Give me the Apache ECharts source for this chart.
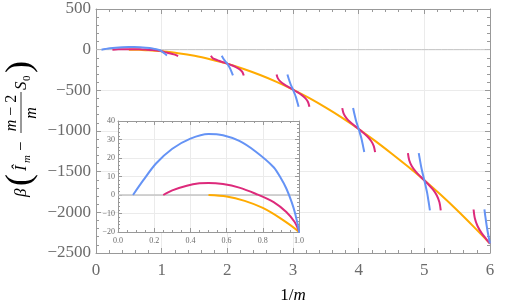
<!DOCTYPE html>
<html><head><meta charset="utf-8">
<script src="https://cdn.jsdelivr.net/npm/echarts@6.0.0/dist/echarts.min.js"></script>
<style>html,body{margin:0;padding:0;background:#fff}#c{width:508px;height:305px}</style>
</head><body><div id="c"></div>
<script>
// ---------------- data ----------------
const mainXRange = [0, 6], mainXStep = 1;
const mainYRange = [-2500, 500], mainYStep = 500;
const insetXRange = [0, 1], insetXStep = 0.2;
const insetYRange = [-20, 40], insetYStep = 10;

const orange = [[0.5,0],[0.6,-0.8],[0.7,-3.2],[0.8,-7],[0.9,-12.8],[1.0,-20],[1.25,-44],[1.5,-76],[1.75,-120],[2,-172],[2.25,-237],[2.5,-311],[2.75,-395],[3,-491],[3.25,-597],[3.5,-713],[3.75,-838],[4,-975],[4.25,-1121],[4.5,-1276],[4.75,-1437],[5,-1606],[5.25,-1785],[5.5,-1975],[5.75,-2176],[6,-2384]];

const mag1 = [[0.25,0],[0.3,2.5],[0.38,5],[0.45,6.3],[0.5,6.5],[0.58,5.9],[0.67,4],[0.76,0.7],[0.86,-3.8],[0.93,-9.2],[0.976,-14.6],[1.0,-19.5],[1.05,-30],[1.1,-40],[1.15,-50],[1.2,-61],[1.25,-80]];
const mag2 = [[1.75,-76],[1.77,-98],[1.81,-118],[1.87,-137],[1.94,-156],[2,-172],[2.06,-190],[2.13,-214],[2.19,-242],[2.23,-276],[2.25,-317]];
const mag3 = [[2.75,-305],[2.77,-353],[2.81,-393],[2.87,-430],[2.94,-464],[3,-491],[3.06,-519],[3.13,-556],[3.19,-599],[3.23,-646],[3.25,-702]];
const mag4 = [[3.75,-718],[3.77,-783],[3.81,-838],[3.87,-890],[3.94,-937],[4,-975],[4.06,-1014],[4.13,-1065],[4.19,-1123],[4.23,-1185],[4.25,-1259]];
const mag5 = [[4.75,-1271],[4.77,-1359],[4.81,-1432],[4.87,-1499],[4.94,-1559],[5,-1606],[5.06,-1655],[5.13,-1719],[5.19,-1792],[5.23,-1875],[5.25,-1975]];
const mag6 = [[5.75,-1965],[5.77,-2077],[5.81,-2168],[5.87,-2252],[5.94,-2326],[6,-2384]];

const blue1 = [[0.083,0],[0.14,8],[0.21,17],[0.3,25],[0.4,30.5],[0.5,33],[0.58,32.3],[0.67,29.2],[0.76,23.5],[0.86,15],[0.9,9],[0.93,3.5],[0.96,-4],[0.98,-10.5],[1.0,-19.5],[1.04,-45],[1.08,-72]];
const blue2 = [[1.915,-76],[1.936,-105],[1.958,-132],[1.979,-153],[2,-172],[2.021,-201],[2.043,-233],[2.064,-274],[2.085,-317]];
const blue3 = [[2.915,-305],[2.936,-361],[2.958,-413],[2.979,-454],[3,-491],[3.021,-533],[3.043,-580],[3.064,-639],[3.085,-702]];
const blue4 = [[3.915,-718],[3.936,-795],[3.958,-867],[3.979,-924],[4,-975],[4.021,-1032],[4.043,-1094],[4.064,-1174],[4.085,-1259]];
const blue5 = [[4.915,-1271],[4.936,-1371],[4.958,-1465],[4.979,-1539],[5,-1606],[5.021,-1680],[5.043,-1761],[5.064,-1864],[5.085,-1975]];
const blue6 = [[5.915,-1965],[5.936,-2091],[5.958,-2208],[5.979,-2300],[6,-2384]];

const mainZero = [[0,0],[6,0]];
const insetZero = [[0,0],[1,0]];

// ---------------- styling ----------------
const FONT = "'Liberation Serif', 'DejaVu Serif', serif";
const FRAME = '#999999', GRIDC = '#ebebeb', LABELC = '#6b6b6b';
const BLUE = '#6593f5', MAG = '#dd2a7b', ORANGE = '#ffab00';
const minusFmt = v => (v < 0 ? '\u2212' : '') + Math.abs(v);

function axis(o) {
  return {
    type: 'value', min: o.range[0], max: o.range[1], interval: o.step,
    gridIndex: o.grid, position: o.pos, z: o.z,
    axisLine: {show: true, onZero: false, lineStyle: {color: FRAME, width: 1}},
    axisTick: {show: true, inside: true, length: o.tl, lineStyle: {color: FRAME, width: 1}},
    minorTick: {show: true, splitNumber: o.minor, length: o.ml, lineStyle: {color: FRAME, width: 1}},
    splitLine: {show: !!o.split, lineStyle: {color: GRIDC, width: 1}},
    minorSplitLine: {show: false},
    axisLabel: o.label ? Object.assign({show: true, color: LABELC, fontFamily: FONT}, o.label) : {show: false}
  };
}
function line(data, color, xi, yi, z, w) {
  return {type: 'line', data, xAxisIndex: xi, yAxisIndex: yi, symbol: 'none', showSymbol: false,
    smooth: 0.3, lineStyle: {color, width: w || 2}, z, silent: true, animation: false};
}
function T(text, x, y, size, italic, align, rich) {
  return {type: 'text', x, y, silent: true, style: {text, fontSize: size, fontFamily: FONT,
    fontStyle: italic ? 'italic' : 'normal', fill: '#000', align: align || 'left', verticalAlign: 'middle', rich}};
}
const richI = {i: {fontStyle: 'italic', fontSize: 16, fontFamily: FONT, fill: '#000'}};

const chart = echarts.init(document.getElementById('c'), null, {renderer: 'canvas'});
chart.setOption({
  animation: false,
  backgroundColor: '#fff',
  grid: [
    {left: 96, right: 18, top: 9, bottom: 52},
    {left: 118, top: 121, width: 181, height: 111}
  ],
  xAxis: [
    axis({range: mainXRange, step: mainXStep, grid: 0, pos: 'bottom', z: 0, tl: 5, ml: 3, minor: 5, split: true,
      label: {fontSize: 17, margin: 9}}),
    axis({range: mainXRange, step: mainXStep, grid: 0, pos: 'top', z: 0, tl: 5, ml: 3, minor: 5}),
    axis({range: insetXRange, step: insetXStep, grid: 1, pos: 'bottom', z: 3, tl: 4, ml: 2, minor: 4, split: true,
      label: {fontSize: 8, margin: 5, formatter: v => v.toFixed(1)}}),
    axis({range: insetXRange, step: insetXStep, grid: 1, pos: 'top', z: 3, tl: 4, ml: 2, minor: 4})
  ],
  yAxis: [
    axis({range: mainYRange, step: mainYStep, grid: 0, pos: 'left', z: 0, tl: 5, ml: 3, minor: 5, split: true,
      label: {fontSize: 17, margin: 5, formatter: minusFmt}}),
    axis({range: mainYRange, step: mainYStep, grid: 0, pos: 'right', z: 0, tl: 5, ml: 3, minor: 5}),
    axis({range: insetYRange, step: insetYStep, grid: 1, pos: 'left', z: 3, tl: 4, ml: 2, minor: 5, split: true,
      label: {fontSize: 8, margin: 3, formatter: minusFmt}}),
    axis({range: insetYRange, step: insetYStep, grid: 1, pos: 'right', z: 3, tl: 4, ml: 2, minor: 5})
  ],
  graphic: [
    {type: 'rect', z: 1, silent: true, shape: {x: 118, y: 121, width: 181, height: 111}, style: {fill: '#fff'}},
    {type: 'text', x: 293, y: 296, silent: true, style: {text: '1/{i|m}', rich: {i: {fontStyle: 'italic', fontSize: 17, fontFamily: FONT, fill: '#000'}},
      fontSize: 17, fontFamily: FONT, fill: '#000', align: 'center', verticalAlign: 'middle'}},
    {type: 'group', x: 22, y: 197, rotation: Math.PI / 2, silent: true, children: [
      T('β', 0, 0, 17, true),
      T('(', 11, -1, 36, false),
      T('Î', 26, 0, 17, true),
      T('m', 34, 5, 11, true),
      T('\u2212', 46, 0, 17, false),
      T('{i|m} \u2212 2', 84, -10, 16, false, 'center', richI),
      {type: 'line', shape: {x1: 64, y1: -1, x2: 105, y2: -1}, style: {stroke: '#000', lineWidth: 0.8}},
      T('m', 84, 10, 16, true, 'center'),
      T('S', 107, 0, 17, true),
      T('0', 116, 5, 11, false),
      T(')', 124, -1, 36, false)
    ]}
  ],
  series: [
    line(mainZero, '#c4c4c4', 0, 0, 1, 1),
    line(orange, ORANGE, 0, 0, 2),
    line(mag1, MAG, 0, 0, 2), line(mag2, MAG, 0, 0, 2), line(mag3, MAG, 0, 0, 2),
    line(mag4, MAG, 0, 0, 2), line(mag5, MAG, 0, 0, 2), line(mag6, MAG, 0, 0, 2),
    line(blue1, BLUE, 0, 0, 2), line(blue2, BLUE, 0, 0, 2), line(blue3, BLUE, 0, 0, 2),
    line(blue4, BLUE, 0, 0, 2), line(blue5, BLUE, 0, 0, 2), line(blue6, BLUE, 0, 0, 2),
    line(insetZero, '#c4c4c4', 2, 2, 4, 1.5),
    line(orange, ORANGE, 2, 2, 5),
    line(mag1, MAG, 2, 2, 5),
    line(blue1, BLUE, 2, 2, 5)
  ]
});
</script>
</body></html>
